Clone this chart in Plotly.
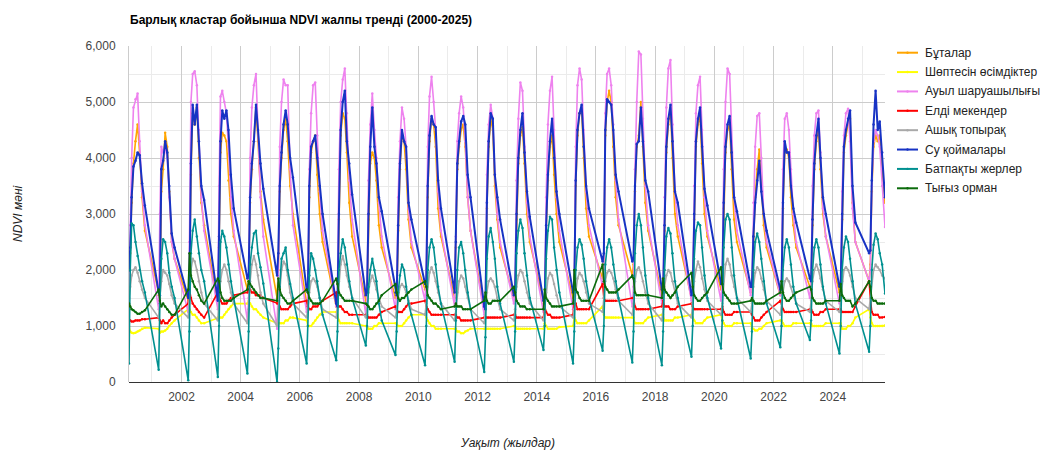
import pandas as pd
import plotly.graph_objects as go

# ---------------- data ----------------
YEARS = list(range(2000, 2026))
# observation days-of-year within each growing season (shared by all series)
SEASON_DOY = [84, 99, 117, 139, 164, 190, 215, 245, 280]

SERIES_NAMES = ["Бұталар", "Шөптесін өсімдіктер", "Ауыл шаруашылығы", "Елді мекендер",
                "Ашық топырақ", "Су қоймалары", "Батпақты жерлер", "Тығыз орман"]
SERIES_COLORS = ["#ffa500", "#ffff00", "#ee82ee", "#ff0000",
                 "#a9a9a9", "#1733c4", "#009090", "#0b6b0b"]

BUTALAR = [
    [1950, 2300, 3200, 3900, 4300, 4600, 4100, 3300, 2700],
    [1550, 1500, 3400, 3800, 4450, 4200, 3400, 2500, 2200],
    [1450, 1600, 3700, 4800, 4600, 4900, 4000, 3200, 2800],
    [1400, 2400, 4100, 4450, 4400, 4300, 3600, 3000, 2600],
    [1650, 1800, 3200, 3800, 4300, 4900, 4300, 3400, 2900],
    [1500, 2000, 3400, 4000, 4500, 4700, 4300, 3500, 3000],
    [1400, 1500, 3300, 4100, 4300, 4400, 3700, 3000, 2500],
    [1350, 1350, 2900, 4400, 4800, 4700, 4100, 3200, 2600],
    [1450, 1500, 2900, 3900, 4100, 4000, 3600, 2800, 2400],
    [1500, 1500, 2700, 3800, 4400, 4300, 3800, 2900, 2400],
    [1650, 1700, 3300, 4300, 4700, 4600, 4200, 3100, 2600],
    [1500, 2400, 3800, 4200, 4500, 4600, 4200, 3300, 2700],
    [1300, 1300, 3100, 4200, 4700, 4500, 3500, 2900, 2400],
    [1500, 1600, 2900, 3900, 4400, 4550, 3900, 3000, 2500],
    [1400, 1350, 2700, 3600, 4200, 4400, 3700, 3000, 2500],
    [1500, 1600, 3500, 4400, 4800, 4850, 4000, 3100, 2600],
    [1850, 2200, 4400, 5000, 5200, 5000, 4200, 3300, 2800],
    [1900, 2100, 3400, 4200, 4400, 5000, 4200, 3200, 2700],
    [1550, 1550, 2700, 4100, 4600, 4900, 4000, 3000, 2600],
    [1500, 1550, 2900, 4200, 4600, 4750, 3900, 3000, 2600],
    [1650, 1700, 3100, 4100, 4500, 4600, 3800, 2900, 2500],
    [1600, 1650, 2600, 3300, 3800, 4150, 3500, 2800, 2400],
    [1550, 1600, 3100, 4100, 4150, 4000, 3300, 2800, 2400],
    [1700, 1700, 2800, 3800, 4300, 4500, 3800, 3000, 2600],
    [1600, 1650, 2900, 4100, 4400, 4600, 4700, 3200, 2500],
    [1800, 2100, 3400, 4200, 4400, 4300, 4400, 3800, 3200],
]

SHOPTESIN = [
    [1000, 900, 880, 870, 880, 900, 920, 950, 970],
    [950, 880, 900, 900, 920, 950, 1000, 1050, 1100],
    [1300, 1300, 1250, 1200, 1200, 1150, 1100, 1050, 1050],
    [1150, 1150, 1150, 1150, 1200, 1250, 1300, 1350, 1400],
    [1400, 1450, 1400, 1350, 1300, 1300, 1250, 1200, 1150],
    [1050, 1050, 1050, 1050, 1050, 1100, 1100, 1150, 1150],
    [1100, 1000, 1000, 1000, 1050, 1100, 1150, 1200, 1250],
    [1250, 1200, 1100, 1050, 1050, 1050, 1050, 1050, 1050],
    [1000, 1000, 950, 950, 950, 1000, 1000, 1050, 1050],
    [1050, 1050, 1000, 1000, 1000, 1050, 1100, 1150, 1200],
    [1200, 1150, 1100, 1050, 1000, 1000, 950, 950, 950],
    [950, 950, 900, 900, 870, 870, 900, 920, 950],
    [950, 950, 950, 950, 950, 950, 950, 950, 950],
    [1000, 1000, 950, 950, 950, 950, 950, 950, 950],
    [950, 1050, 1000, 950, 950, 950, 950, 950, 980],
    [1000, 1150, 1100, 1050, 1050, 1050, 1050, 1050, 1100],
    [1350, 1200, 1150, 1150, 1150, 1150, 1150, 1150, 1150],
    [1150, 1150, 1050, 1050, 1050, 1050, 1050, 1100, 1150],
    [1200, 1200, 1100, 1100, 1100, 1100, 1100, 1150, 1150],
    [1200, 1150, 1100, 1050, 1050, 1050, 1050, 1100, 1150],
    [1200, 1100, 1050, 1000, 1000, 1000, 1000, 1050, 1050],
    [1050, 950, 950, 920, 920, 950, 950, 1000, 1050],
    [1100, 1100, 1050, 1000, 1000, 1000, 1000, 1050, 1050],
    [1050, 1050, 1000, 1000, 1000, 1000, 1000, 1000, 1050],
    [1050, 1050, 950, 950, 950, 1000, 1000, 1050, 1150],
    [1300, 1150, 1050, 1000, 1000, 1000, 1000, 1000, 1010],
]

AUYL = [
    [1500, 2800, 4000, 4900, 5050, 5150, 4300, 3400, 2800],
    [1300, 3000, 4200, 4100, 4200, 4000, 3300, 2500, 2200],
    [1250, 2500, 5000, 5500, 5550, 5300, 4500, 3300, 2700],
    [1300, 3500, 5100, 5200, 5000, 4800, 4200, 3300, 2700],
    [1100, 1500, 4000, 4900, 5300, 5500, 4500, 3300, 2600],
    [950, 1800, 4200, 5000, 5400, 5300, 5300, 3800, 2800],
    [1250, 1600, 3800, 4800, 5300, 5350, 4400, 3400, 2700],
    [1350, 1600, 3800, 5000, 5400, 5600, 4800, 3600, 2900],
    [1200, 1500, 3600, 4600, 5150, 4500, 4000, 3200, 2600],
    [1300, 1600, 3300, 4300, 4900, 4700, 4200, 3100, 2500],
    [1450, 2000, 4200, 5100, 5450, 5000, 4500, 3400, 2700],
    [1350, 2600, 4300, 4800, 5100, 4900, 4300, 3300, 2700],
    [1200, 1500, 3700, 4600, 4950, 4700, 3700, 3000, 2500],
    [1400, 1700, 3600, 4700, 5350, 5200, 4200, 3200, 2600],
    [1250, 1400, 3300, 4600, 5200, 5450, 4500, 3300, 2700],
    [1300, 1700, 4200, 5300, 5600, 5400, 4500, 3400, 2800],
    [1700, 2000, 4800, 5500, 5600, 5300, 4600, 3600, 2900],
    [1350, 1700, 3800, 5000, 5900, 5850, 4700, 3500, 2800],
    [1400, 1700, 3300, 4900, 5600, 5750, 4600, 3400, 2800],
    [1450, 1800, 3500, 4800, 5300, 5450, 4500, 3300, 2700],
    [1450, 1900, 3800, 5000, 5600, 5500, 4300, 3300, 2700],
    [1550, 1800, 3200, 4200, 4750, 4800, 4000, 3000, 2500],
    [1550, 1800, 3800, 4700, 4800, 4500, 3800, 3000, 2500],
    [1500, 1800, 3500, 4400, 4800, 4850, 4100, 3100, 2600],
    [1400, 1700, 3400, 4400, 4800, 4880, 4300, 3100, 2500],
    [1800, 2000, 3500, 4300, 4500, 4400, 4200, 3500, 2770],
]

ELDI = [
    [1100, 1100, 1080, 1080, 1100, 1100, 1100, 1120, 1120],
    [1150, 1100, 1050, 1100, 1050, 1050, 1100, 1150, 1200],
    [1400, 1650, 1500, 1400, 1350, 1300, 1250, 1200, 1150],
    [1600, 1550, 1450, 1400, 1400, 1400, 1450, 1500, 1550],
    [1600, 1650, 1650, 1600, 1600, 1550, 1550, 1550, 1500],
    [1400, 1400, 1350, 1300, 1300, 1300, 1300, 1350, 1400],
    [1450, 1350, 1300, 1300, 1350, 1350, 1350, 1400, 1450],
    [1600, 1400, 1350, 1350, 1300, 1250, 1250, 1200, 1200],
    [1200, 1200, 1150, 1150, 1150, 1150, 1150, 1200, 1250],
    [1350, 1300, 1250, 1250, 1250, 1300, 1350, 1400, 1400],
    [1450, 1350, 1300, 1250, 1200, 1200, 1200, 1200, 1200],
    [1200, 1200, 1150, 1150, 1100, 1100, 1100, 1100, 1100],
    [1150, 1150, 1150, 1150, 1150, 1150, 1150, 1150, 1150],
    [1200, 1200, 1150, 1150, 1150, 1150, 1150, 1150, 1150],
    [1150, 1350, 1250, 1200, 1200, 1150, 1150, 1150, 1150],
    [1200, 1450, 1400, 1300, 1300, 1300, 1300, 1300, 1300],
    [1750, 1500, 1450, 1450, 1450, 1450, 1450, 1450, 1450],
    [1500, 1500, 1350, 1300, 1300, 1300, 1300, 1300, 1300],
    [1350, 1450, 1350, 1350, 1350, 1300, 1300, 1300, 1350],
    [1400, 1350, 1300, 1300, 1300, 1300, 1300, 1300, 1300],
    [1300, 1350, 1250, 1200, 1200, 1200, 1200, 1250, 1250],
    [1250, 1200, 1150, 1100, 1100, 1100, 1150, 1200, 1250],
    [1450, 1400, 1300, 1250, 1250, 1250, 1250, 1250, 1250],
    [1300, 1300, 1250, 1200, 1200, 1200, 1250, 1250, 1300],
    [1300, 1300, 1250, 1250, 1250, 1250, 1250, 1250, 1350],
    [1800, 1500, 1250, 1200, 1200, 1200, 1150, 1150, 1160],
]

ASHYQ = [
    [1500, 1700, 1900, 2000, 2050, 1950, 1800, 1650, 1500],
    [1150, 1500, 1800, 2000, 1950, 1900, 1750, 1550, 1400],
    [1150, 1600, 2000, 2200, 2150, 2000, 1800, 1600, 1400],
    [1100, 1500, 1800, 2000, 2100, 2000, 1800, 1600, 1400],
    [1050, 1300, 1800, 2100, 2250, 2100, 1900, 1600, 1400],
    [1000, 1300, 1700, 2000, 2150, 2100, 1900, 1600, 1400],
    [1150, 1300, 1600, 1800, 1850, 1800, 1700, 1500, 1300],
    [1150, 1400, 1800, 2100, 2250, 2100, 1900, 1700, 1500],
    [1150, 1300, 1600, 1800, 1900, 1800, 1650, 1500, 1350],
    [1150, 1300, 1500, 1700, 1750, 1700, 1600, 1450, 1300],
    [1200, 1400, 1700, 1950, 2050, 1950, 1800, 1600, 1400],
    [1100, 1300, 1600, 1800, 1900, 1850, 1700, 1500, 1300],
    [1050, 1300, 1600, 1800, 1850, 1800, 1700, 1500, 1300],
    [1100, 1300, 1700, 1900, 2000, 1950, 1800, 1600, 1400],
    [1100, 1300, 1600, 1850, 1950, 1900, 1750, 1550, 1350],
    [1150, 1300, 1600, 1850, 1950, 1900, 1800, 1600, 1400],
    [1250, 1500, 1800, 1950, 2000, 1950, 1850, 1650, 1450],
    [1200, 1400, 1800, 2000, 2050, 1950, 1800, 1600, 1400],
    [1100, 1300, 1700, 1900, 2000, 1950, 1800, 1600, 1400],
    [1150, 1400, 1800, 2000, 2150, 2050, 1850, 1650, 1450],
    [1200, 1400, 1800, 2100, 2200, 2100, 1900, 1700, 1500],
    [1250, 1400, 1700, 1950, 2050, 2000, 1850, 1650, 1450],
    [1200, 1400, 1600, 1800, 1850, 1800, 1700, 1550, 1400],
    [1250, 1450, 1800, 2000, 2100, 2000, 1850, 1650, 1450],
    [1250, 1450, 1800, 2000, 2050, 2000, 1900, 1700, 1500],
    [1300, 1500, 1800, 2000, 2100, 2050, 2000, 1900, 1850],
]

SU = [
    [1990, 2400, 3300, 3850, 3950, 4100, 4050, 3550, 3150],
    [1600, 1550, 3800, 3950, 4300, 4100, 3500, 2650, 2400],
    [1500, 1700, 3900, 4950, 4600, 4950, 4300, 3500, 3250],
    [1450, 2600, 4300, 4850, 4700, 4850, 4500, 3700, 3100],
    [1850, 1900, 3300, 3900, 4300, 4950, 4500, 3900, 3450],
    [1900, 2300, 3500, 4100, 4600, 4850, 4600, 4000, 3650],
    [1650, 1600, 3500, 4200, 4300, 4400, 4000, 3500, 3000],
    [1400, 1350, 3000, 4500, 5000, 5200, 4300, 3900, 3350],
    [1550, 1600, 3000, 4200, 4900, 4200, 3900, 3300, 3050],
    [1600, 1550, 2800, 3900, 4500, 4300, 4200, 3200, 2900],
    [1750, 1800, 3500, 4400, 4750, 4600, 4550, 3600, 3100],
    [1600, 2500, 3900, 4300, 4650, 4750, 4600, 3700, 3300],
    [1350, 1300, 3200, 4300, 4800, 4700, 3700, 3300, 2900],
    [1550, 1650, 3000, 4000, 4500, 4800, 4100, 3400, 2950],
    [1450, 1400, 2800, 3700, 4300, 4700, 4000, 3400, 3000],
    [1600, 1650, 3600, 4500, 4800, 4950, 4200, 3500, 3100],
    [2150, 2300, 4500, 5050, 5000, 4950, 4500, 3700, 3400],
    [2150, 2200, 3500, 4250, 4300, 4900, 4300, 3600, 3400],
    [1650, 1600, 2800, 4200, 4700, 4950, 4300, 3400, 3200],
    [1550, 1600, 3000, 4300, 4700, 4900, 4200, 3450, 3150],
    [1750, 1750, 3200, 4200, 4600, 4750, 4100, 3300, 3050],
    [1700, 1700, 2600, 3200, 3600, 3950, 3400, 3000, 2700],
    [1650, 1650, 3200, 4300, 4100, 4100, 3500, 3100, 2850],
    [1850, 1800, 2900, 3900, 4400, 4700, 4000, 3300, 3000],
    [1700, 1750, 3000, 4200, 4500, 4700, 4850, 3500, 2850],
    [2300, 2350, 3600, 4600, 5200, 4500, 4650, 4100, 3300],
]

BATPAQ = [
    [330, 2000, 2830, 2800, 2500, 2250, 2000, 1800, 1600],
    [220, 1400, 2200, 2550, 2500, 2300, 1950, 1700, 1500],
    [30, 900, 2300, 2700, 2900, 2600, 2300, 2000, 1800],
    [90, 1000, 2500, 2700, 2600, 2400, 2100, 1800, 1500],
    [150, 900, 2100, 2400, 2650, 2700, 2300, 2050, 1760],
    [0, 600, 1700, 2200, 2300, 2400, 2000, 1750, 1500],
    [330, 1000, 1900, 2300, 2200, 2000, 1800, 1500, 1200],
    [390, 900, 2000, 2300, 2550, 2400, 2100, 1800, 1500],
    [650, 1000, 1700, 2000, 2200, 2000, 1800, 1400, 1100],
    [480, 900, 1600, 1900, 2100, 2000, 1700, 1400, 1200],
    [300, 1000, 2000, 2400, 2550, 2400, 2100, 1700, 1400],
    [360, 1100, 2000, 2400, 2500, 2300, 2000, 1600, 1300],
    [180, 800, 2200, 2600, 2750, 2500, 2200, 1700, 1400],
    [360, 900, 2300, 2700, 2900, 2750, 2300, 1900, 1500],
    [570, 1000, 2200, 2700, 2950, 2900, 2400, 2000, 1600],
    [330, 900, 2000, 2400, 2550, 2450, 2200, 1800, 1500],
    [560, 1000, 2100, 2400, 2550, 2400, 2100, 1800, 1500],
    [350, 900, 2300, 2800, 3000, 2800, 2400, 1900, 1500],
    [300, 900, 2000, 2600, 2750, 2650, 2300, 1800, 1500],
    [450, 1000, 2200, 2700, 2850, 2800, 2400, 1900, 1500],
    [600, 1100, 2400, 2900, 3000, 2900, 2400, 1900, 1500],
    [420, 900, 2000, 2500, 2650, 2500, 2200, 1800, 1400],
    [620, 1000, 2000, 2400, 2550, 2400, 2100, 1700, 1400],
    [750, 1100, 2000, 2400, 2550, 2400, 2100, 1700, 1400],
    [510, 1000, 2000, 2400, 2600, 2500, 2200, 1800, 1400],
    [540, 1000, 2000, 2450, 2650, 2550, 2300, 2100, 1580],
]

TYGYZ = [
    [1400, 1350, 1300, 1280, 1250, 1220, 1220, 1250, 1280],
    [1650, 1450, 1350, 1400, 1350, 1300, 1250, 1200, 1200],
    [1650, 2300, 1900, 1800, 1700, 1650, 1550, 1450, 1400],
    [1850, 1800, 1600, 1500, 1450, 1450, 1450, 1450, 1500],
    [1650, 1800, 1750, 1700, 1650, 1600, 1550, 1500, 1500],
    [1450, 1850, 1650, 1550, 1500, 1450, 1400, 1400, 1450],
    [1650, 1600, 1500, 1450, 1400, 1400, 1400, 1400, 1450],
    [1850, 1750, 1600, 1550, 1500, 1450, 1450, 1450, 1450],
    [1400, 1380, 1350, 1300, 1300, 1350, 1400, 1450, 1550],
    [1750, 1600, 1500, 1450, 1500, 1500, 1550, 1600, 1650],
    [1800, 1700, 1550, 1500, 1450, 1400, 1400, 1350, 1300],
    [1350, 1400, 1350, 1350, 1350, 1300, 1300, 1300, 1300],
    [1450, 1600, 1450, 1400, 1400, 1450, 1450, 1450, 1450],
    [1700, 1600, 1450, 1400, 1350, 1350, 1350, 1300, 1300],
    [1300, 1650, 1500, 1450, 1400, 1350, 1350, 1350, 1350],
    [1400, 2000, 1650, 1600, 1500, 1450, 1450, 1450, 1450],
    [2100, 1800, 1700, 1650, 1600, 1600, 1600, 1600, 1650],
    [1900, 1850, 1600, 1550, 1550, 1550, 1550, 1550, 1550],
    [1500, 1850, 1650, 1600, 1550, 1500, 1550, 1600, 1700],
    [1950, 1700, 1550, 1500, 1450, 1450, 1500, 1550, 1600],
    [2050, 1750, 1600, 1550, 1500, 1450, 1400, 1400, 1400],
    [1450, 1500, 1450, 1400, 1400, 1400, 1400, 1400, 1450],
    [1600, 1800, 1600, 1500, 1450, 1450, 1500, 1550, 1600],
    [1700, 1650, 1500, 1450, 1400, 1400, 1400, 1400, 1450],
    [1450, 1750, 1550, 1500, 1450, 1450, 1450, 1350, 1400],
    [1800, 1700, 1500, 1450, 1450, 1400, 1400, 1400, 1400],
]

SERIES_VALUES = [BUTALAR, SHOPTESIN, AUYL, ELDI, ASHYQ, SU, BATPAQ, TYGYZ]

TITLE = "Барлық кластар бойынша NDVI жалпы тренді (2000-2025)"
X_TITLE = "Уақыт (жылдар)"
Y_TITLE = "NDVI мәні"

# ---------------- figure ----------------
W, H = 1042, 451
ML, MR, MT, MB = 129, 157, 46, 69
PW, PH = W - ML - MR, H - MT - MB


def px_x(px):
    return (px - ML) / PW


def px_y(py):
    return (H - MB - py) / PH


dates = [pd.Timestamp(y, 1, 1) + pd.Timedelta(days=d - 1) for y in YEARS for d in SEASON_DOY]

FONT = "Liberation Sans, Arial, sans-serif"
fig = go.Figure()
for name, rows, color in zip(SERIES_NAMES, SERIES_VALUES, SERIES_COLORS):
    vals = [v for r in rows for v in r]
    width = 2.0 if name == "Су қоймалары" else 1.6
    fig.add_trace(go.Scatter(
        x=dates, y=vals, name=name, mode="lines+markers",
        line=dict(color=color, width=width),
        marker=dict(color=color, size=2.5),
        showlegend=False,
    ))

# legend drawn at fixed pixel positions (Google-Charts-like, right of the plot)
shapes = []
annotations = []
for i, (name, color) in enumerate(zip(SERIES_NAMES, SERIES_COLORS)):
    yc = 52.7 + i * 19.37
    shapes.append(dict(type="line", xref="paper", yref="paper",
                       x0=px_x(897), x1=px_x(918), y0=px_y(yc), y1=px_y(yc),
                       line=dict(color=color, width=2)))
    shapes.append(dict(type="circle", xref="paper", yref="paper",
                       x0=px_x(906.3), x1=px_x(908.7), y0=px_y(yc + 1.2), y1=px_y(yc - 1.2),
                       fillcolor=color, line=dict(color=color, width=0)))
    annotations.append(dict(text=name, xref="paper", yref="paper",
                            x=px_x(923), y=px_y(yc), xanchor="left", yanchor="middle",
                            showarrow=False,
                            font=dict(family=FONT, size=12, color="#222222")))

annotations += [
    dict(text="<i>" + X_TITLE + "</i>", xref="paper", yref="paper",
         x=0.5, y=px_y(443), xanchor="center", yanchor="middle",
         showarrow=False, font=dict(family=FONT, size=12, color="#222222")),
    dict(text="<i>" + Y_TITLE + "</i>", xref="paper", yref="paper",
         x=px_x(18), y=0.5, xanchor="center", yanchor="middle",
         textangle=-90, showarrow=False,
         font=dict(family=FONT, size=12, color="#222222")),
]

fig.update_layout(
    width=W, height=H, autosize=False,
    margin=dict(l=ML, r=MR, t=MT, b=MB),
    paper_bgcolor="white", plot_bgcolor="white",
    font=dict(family=FONT, size=12, color="#444444"),
    title=dict(text="<b>" + TITLE + "</b>", x=130 / W, xanchor="left",
               y=1 - 20 / H, yanchor="middle",
               font=dict(family=FONT, size=12, color="#000000")),
    showlegend=False,
    shapes=shapes,
    annotations=annotations,
)

fig.update_xaxes(
    type="date", range=[dates[0], dates[-1]],
    tick0="2002-01-01", dtick="M24", tickformat="%Y",
    showgrid=True, gridcolor="#cccccc", gridwidth=1,
    minor=dict(dtick="M12", showgrid=True, gridcolor="#ebebeb"),
    ticks="", ticklabelstandoff=6,
    tickfont=dict(family=FONT, size=12, color="#444444"),
    showline=False, zeroline=False,
)
fig.update_yaxes(
    range=[0, 6000], dtick=1000, tickformat=",d",
    showgrid=True, gridcolor="#cccccc", gridwidth=1,
    minor=dict(dtick=500, showgrid=True, gridcolor="#ebebeb"),
    ticks="", ticklabelstandoff=10,
    tickfont=dict(family=FONT, size=12, color="#444444"),
    zeroline=True, zerolinecolor="#333333", zerolinewidth=1,
    showline=True, linecolor="#cccccc",
)

fig.write_html(
    "out.html",
    config={"displayModeBar": False},
    post_script="document.body.style.margin='0';document.body.style.padding='0';",
)
